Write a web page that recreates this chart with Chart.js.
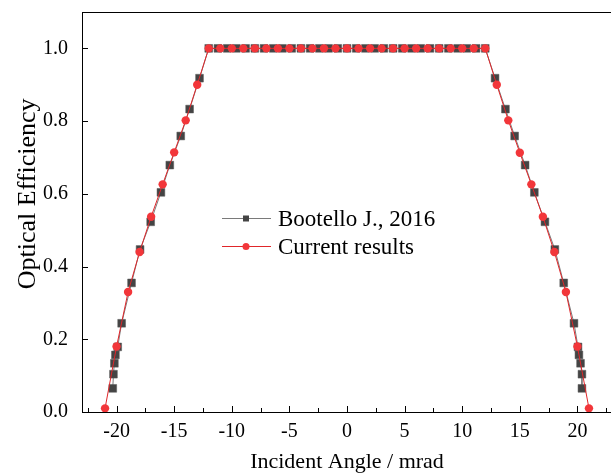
<!DOCTYPE html>
<html>
<head>
<meta charset="utf-8">
<script src="https://cdn.jsdelivr.net/npm/chart.js@4"></script>
<style>
  html, body { margin: 0; padding: 0; background: #fff; overflow: hidden; }
  #wrap { width: 618px; height: 475px; }
</style>
</head>
<body>
<div id="wrap"><canvas id="myChart" width="618" height="475"></canvas></div>
<script>
// data
var bootelloX = [-20.33, -20.27, -20.19, -20.1, -19.9, -19.56, -18.7, -17.96, -17.04, -16.15, -15.38, -14.43, -13.66, -12.8,
    -12.0, -11.2, -10.4, -9.6, -8.8, -8.0, -7.2, -6.4, -5.6, -4.8, -4.0, -3.2, -2.4, -1.6, -0.8, 0, 0.8, 1.6, 2.4, 3.2, 4.0,
    4.8, 5.6, 6.4, 7.2, 8.0, 8.8, 9.6, 10.4, 11.2, 12.0,
    12.85, 13.75, 14.55, 15.46, 16.26, 17.18, 18.04, 18.81, 19.7, 20.05, 20.13, 20.27, 20.39, 20.39];
var bootelloY = [0.065, 0.104, 0.134, 0.157, 0.179, 0.244, 0.355, 0.447, 0.523, 0.604, 0.679, 0.759, 0.833, 0.918,
    1.0, 1.0, 1.0, 1.0, 1.0, 1.0, 1.0, 1.0, 1.0, 1.0, 1.0, 1.0, 1.0, 1.0, 1.0, 1.0, 1.0, 1.0, 1.0, 1.0, 1.0,
    1.0, 1.0, 1.0, 1.0, 1.0, 1.0, 1.0, 1.0, 1.0, 1.0,
    0.918, 0.833, 0.759, 0.679, 0.604, 0.523, 0.447, 0.355, 0.244, 0.179, 0.157, 0.134, 0.104, 0.065];

var currentX = [-21, -20, -19, -18, -17, -16, -15, -14, -13, -12, -11, -10, -9, -8, -7, -6, -5, -4, -3, -2, -1, 0,
    1, 2, 3, 4, 5, 6, 7, 8, 9, 10, 11, 12, 13, 14, 15, 16, 17, 18, 19, 20, 21];
var currentY = [0.01, 0.18, 0.33, 0.44, 0.537, 0.626, 0.714, 0.802, 0.90, 1.0, 1.0, 1.0, 1.0, 1.0, 1.0, 1.0, 1.0, 1.0, 1.0, 1.0, 1.0, 1.0,
    1.0, 1.0, 1.0, 1.0, 1.0, 1.0, 1.0, 1.0, 1.0, 1.0, 1.0, 1.0, 0.90, 0.802, 0.713, 0.626, 0.537, 0.44, 0.33, 0.18, 0.01];

var xTicks = [-20, -15, -10, -5, 0, 5, 10, 15, 20];
var xMinorTicks = [-22.5, -17.5, -12.5, -7.5, -2.5, 2.5, 7.5, 12.5, 17.5, 22.5];
var yTicks = [0.0, 0.2, 0.4, 0.6, 0.8, 1.0];

var seriesNames = ['Bootello J., 2016', 'Current results'];
var xTitle = 'Incident Angle / mrad';
var yTitle = 'Optical Efficiency';

function toPoints(xs, ys) {
    var pts = [];
    for (var i = 0; i < xs.length; i++) pts.push({x: xs[i], y: ys[i]});
    return pts;
}

var serif = "'Liberation Serif', 'Times New Roman', serif";

// frame + ticks pointing into the plot, y title
var frameTicks = {
    id: 'frameTicks',
    afterDraw: function (chart) {
        var ctx = chart.ctx;
        var xs = chart.scales.x, ys = chart.scales.y;
        var left = Math.round(xs.left), right = Math.round(xs.right);
        var top = Math.round(ys.getPixelForValue(ys.max));
        var bottom = Math.round(ys.getPixelForValue(ys.min));
        ctx.save();
        ctx.strokeStyle = '#000';
        ctx.lineWidth = 1;
        ctx.strokeRect(left + 0.5, top + 0.5, right - left, bottom - top);
        ctx.beginPath();
        xTicks.forEach(function (v) {
            var p = Math.round(xs.getPixelForValue(v)) + 0.5;
            ctx.moveTo(p, bottom); ctx.lineTo(p, bottom - 6);
        });
        xMinorTicks.forEach(function (v) {
            var p = Math.round(xs.getPixelForValue(v)) + 0.5;
            ctx.moveTo(p, bottom); ctx.lineTo(p, bottom - 4);
        });
        yTicks.forEach(function (v) {
            var p = Math.round(ys.getPixelForValue(v)) + 0.5;
            ctx.moveTo(left, p); ctx.lineTo(left + 6, p);
        });
        ctx.stroke();

        // y title sits a bit above the axis centre in the original
        ctx.translate(28, ys.getPixelForValue(0.6));
        ctx.rotate(-Math.PI / 2);
        ctx.font = "26px " + serif;
        ctx.fillStyle = '#000';
        ctx.textAlign = 'center';
        ctx.textBaseline = 'middle';
        ctx.fillText(yTitle, 0, 0);
        ctx.restore();
    }
};

// legend drawn inside the plot
var innerLegend = {
    id: 'innerLegend',
    afterDraw: function (chart) {
        var ctx = chart.ctx;
        var x0 = 222, y0 = 218, gap = 28;
        ctx.save();
        ctx.font = "23px " + serif;
        ctx.textBaseline = 'middle';
        chart.data.datasets.forEach(function (ds, i) {
            var y = y0 + i * gap + 0.5;
            ctx.strokeStyle = ds.borderColor;
            ctx.lineWidth = 1;
            ctx.beginPath();
            ctx.moveTo(x0, y); ctx.lineTo(x0 + 49, y);
            ctx.stroke();
            ctx.fillStyle = ds.pointBackgroundColor;
            if (i === 0) {
                ctx.fillRect(x0 + 21, y - 3, 6, 6);
            } else {
                ctx.beginPath();
                ctx.arc(x0 + 24, y, 3.5, 0, Math.PI * 2);
                ctx.fill();
            }
            ctx.fillStyle = '#000';
            ctx.fillText(ds.label, x0 + 56, y + 1);
        });
        ctx.restore();
    }
};

window.onload = function () {
    var ctx = document.getElementById('myChart').getContext('2d');
    var chart = new Chart(ctx, {
        type: 'scatter',
        data: {
            datasets: [{
                label: seriesNames[0],
                data: toPoints(bootelloX, bootelloY),
                showLine: true,
                borderColor: '#7a7a7a',
                borderWidth: 1,
                pointStyle: 'rect',
                pointRadius: 5.5,
                pointBackgroundColor: '#444444',
                pointBorderColor: '#5a5a5a',
                pointBorderWidth: 0.5,
                order: 2
            }, {
                label: seriesNames[1],
                data: toPoints(currentX, currentY),
                showLine: true,
                borderColor: '#e0262a',
                borderWidth: 1,
                pointStyle: 'circle',
                pointRadius: 4.2,
                pointBackgroundColor: '#f2363a',
                pointBorderColor: '#f2363a',
                pointBorderWidth: 0,
                order: 1
            }]
        },
        options: {
            responsive: false,
            animation: false,
            layout: { padding: { top: 12, left: 0, right: 0, bottom: 0 } },
            plugins: {
                legend: { display: false },
                tooltip: { enabled: false }
            },
            scales: {
                x: {
                    type: 'linear',
                    min: -23,
                    max: 23,
                    afterBuildTicks: function (scale) {
                        scale.ticks = xTicks.map(function (v) { return {value: v}; });
                    },
                    afterFit: function (scale) {
                        scale.height = 63;
                        scale.paddingLeft = 0; scale.paddingRight = 0;
                    },
                    grid: { display: false, drawTicks: false },
                    border: { display: false },
                    ticks: {
                        color: '#000',
                        padding: 8,
                        maxRotation: 0,
                        font: { family: serif, size: 20 },
                        callback: function (v) { return String(v); }
                    },
                    title: {
                        display: true,
                        text: xTitle,
                        color: '#000',
                        font: { family: serif, size: 22 },
                        padding: { top: 1, bottom: 0 }
                    }
                },
                y: {
                    type: 'linear',
                    min: 0,
                    max: 1.1,
                    afterBuildTicks: function (scale) {
                        scale.ticks = yTicks.map(function (v) { return {value: v}; });
                    },
                    afterFit: function (scale) {
                        scale.width = 82;
                        scale.paddingTop = 0; scale.paddingBottom = 0;
                    },
                    grid: { display: false, drawTicks: false },
                    border: { display: false },
                    ticks: {
                        color: '#000',
                        padding: 14,
                        font: { family: serif, size: 20 },
                        callback: function (v) { return v.toFixed(1); }
                    },
                    title: { display: false }
                }
            }
        },
        plugins: [frameTicks, innerLegend]
    });
};
</script>
</body>
</html>
